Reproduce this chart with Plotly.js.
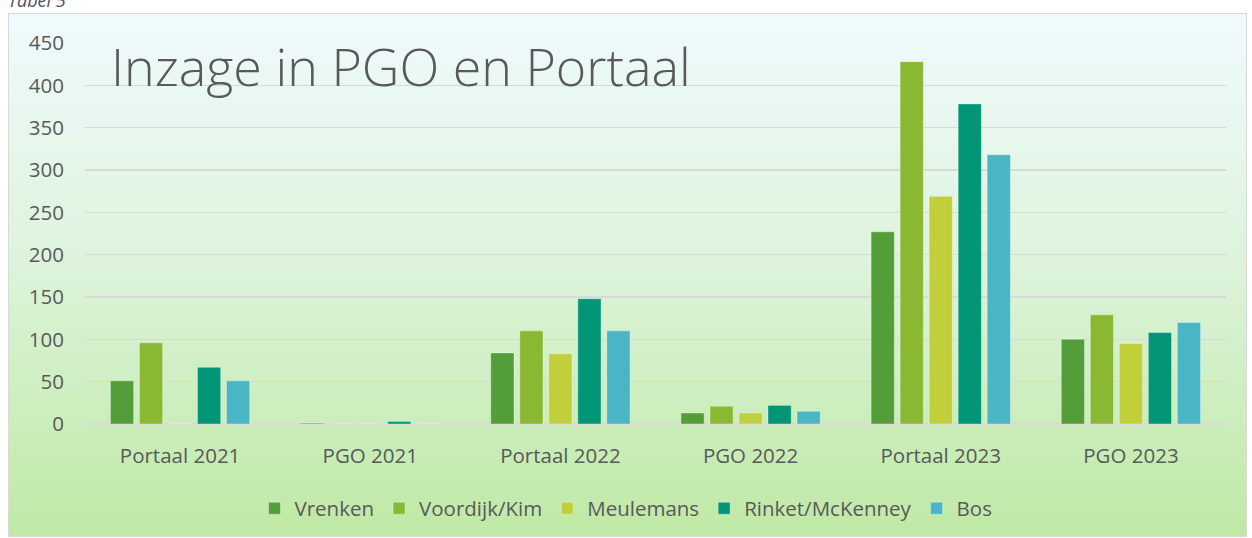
<!DOCTYPE html>
<html>
<head>
<meta charset="utf-8">
<script src="https://cdn.plot.ly/plotly-3.0.1.min.js"></script>
<style>
  html, body { margin:0; padding:0; background:#ffffff; }
  #wrap { position:relative; width:1252px; height:538px; overflow:hidden; }
  #box { position:absolute; left:8px; top:13px; width:1239px; height:524px;
         border:1px solid #d9d9d9; box-sizing:border-box;
         background: linear-gradient(to bottom, #effafd 0%, #def4dd 45%, #bfe9a5 100%); }
  #cap { position:absolute; left:8px; top:-11px; font-family:"Open Sans", sans-serif;
         font-style:italic; font-size:18px; color:#44546a; line-height:22px; }
  #chart { position:absolute; left:0; top:0; width:1252px; height:538px; }
</style>
</head>
<body>
<div id="wrap">
  <div id="box"></div>
  <div id="cap">Tabel 5</div>
  <div id="chart"></div>
</div>
<script>
const categories = ["Portaal 2021", "PGO 2021", "Portaal 2022", "PGO 2022", "Portaal 2023", "PGO 2023"];
const seriesNames = ["Vrenken", "Voordijk/Kim", "Meulemans", "Rinket/McKenney", "Bos"];
const vrenken   = [51, 1, 84, 13, 227, 100];
const voordijk  = [96, 0, 110, 21, 428, 129];
const meulemans = [0, 0, 83, 13, 269, 95];
const rinket    = [67, 3, 148, 22, 378, 108];
const bos       = [51, 0, 110, 15, 318, 120];
const colors = ["#549E39", "#8AB833", "#C0CF3A", "#029676", "#4AB5C4"];
const yTicks = [0, 50, 100, 150, 200, 250, 300, 350, 400, 450];

const allValues = [vrenken, voordijk, meulemans, rinket, bos];
const traces = allValues.map((vals, i) => ({
  type: "bar",
  name: seriesNames[i],
  x: categories,
  y: vals,
  marker: { color: colors[i], line: { color: "rgba(255,255,255,0.35)", width: 1 } },
  hoverinfo: "x+y+name"
}));

const font = { family: "Open Sans, sans-serif", size: 20.5, color: "#595959" };

const layout = {
  width: 1252, height: 538,
  paper_bgcolor: "rgba(0,0,0,0)",
  plot_bgcolor: "rgba(0,0,0,0)",
  margin: { l: 85, r: 26, t: 43, b: 114 },
  barmode: "group",
  bargap: 0.237,
  bargroupgap: 0.2,
  font: font,
  showlegend: true,
  legend: {
    orientation: "h", x: 0.5, xanchor: "center", xref: "container",
    y: 0.055, yanchor: "middle", yref: "container",
    font: { family: "Open Sans, sans-serif", size: 20.5, color: "#595959" },
    bgcolor: "rgba(0,0,0,0)", itemclick: false, traceorder: "normal"
  },
  xaxis: {
    type: "category", showgrid: false, zeroline: false, showline: false,
    ticks: "", ticklabelstandoff: 17, tickfont: font, fixedrange: true
  },
  yaxis: {
    range: [0, 450], tickvals: yTicks, ticktext: yTicks.map(String),
    showgrid: true, gridcolor: "#d9d9d9", gridwidth: 1.5,
    zeroline: true, zerolinecolor: "#d9d9d9", zerolinewidth: 1.5,
    showline: false, ticks: "", ticklabelstandoff: 20, tickfont: font, fixedrange: true
  },
  annotations: [{
    text: "Inzage in PGO en Portaal",
    xref: "paper", yref: "paper", x: 0.021, y: 1.04, xanchor: "left", yanchor: "top",
    showarrow: false,
    font: { family: "Open Sans, sans-serif", size: 52, weight: 300, color: "#595959" }
  }]
};

Plotly.newPlot("chart", traces, layout, { displayModeBar: false, staticPlot: true });
</script>
</body>
</html>
